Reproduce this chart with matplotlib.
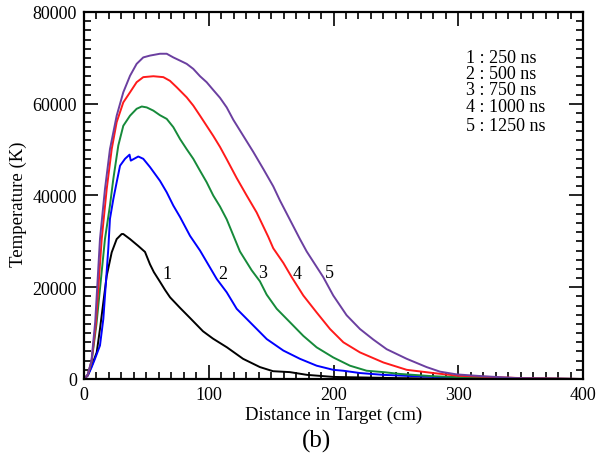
import numpy as np
import matplotlib
matplotlib.use("Agg")
import matplotlib.pyplot as plt
from matplotlib.ticker import MultipleLocator

plt.rcParams['font.family'] = ['Liberation Serif', 'DejaVu Serif']

### 데이터 ###

# 1 : 250 ns
x1 = [0, 3, 6.2, 10.2, 12.8, 15.5, 18.2, 22.2, 26.2, 30.2, 31.5, 36.9, 43.5, 48.9, 52.9, 56,
      60.9, 65, 69, 77, 85, 95.4, 103.4, 114.6, 127.5, 141, 151.5, 165, 178.8, 200, 250, 300, 400]
y1 = [0, 800, 2900, 5800, 10900, 16700, 22500, 27600, 30500, 31600, 31600, 30500, 29000, 27700, 25000, 23300,
      21200, 19400, 17800, 15500, 13300, 10400, 8800, 6900, 4400, 2600, 1700, 1500, 900, 450, 200, 50, 0]

# 2 : 500 ns
x2 = [0, 3, 6, 8.8, 12.8, 15.5, 19.5, 20.8, 23.5, 26.2, 28.9, 32.9, 36.5, 37.5, 43.5, 47.5,
      52.9, 60.9, 66.3, 71.6, 77, 85, 93, 106.4, 114.4, 122.4, 133, 146.5, 159.8, 173.1,
      186.5, 199.8, 207.9, 221.2, 240, 266.7, 300, 350, 400]
y2 = [0, 700, 2500, 4400, 7300, 13100, 28500, 34900, 39200, 42900, 46500, 48000, 48900, 47600, 48500, 48000,
      46200, 43200, 40700, 37800, 35300, 31200, 28000, 21800, 18900, 15300, 12400, 8700, 6200, 4400,
      2900, 2000, 1800, 1300, 900, 600, 250, 80, 0]

# 3 : 750 ns
x3 = [0, 3, 6, 10, 16.8, 20.8, 23.5, 27.5, 31.5, 36.9, 42.2, 46.3, 50.3, 55.6, 60.9, 66.3,
      71.6, 77, 82.3, 87.6, 93, 98.3, 103.6, 109, 114.4, 119.7, 125, 134.4, 141, 146.4, 154.5,
      165, 175.8, 186.5, 199.8, 213.2, 226.6, 240, 253.3, 280, 320, 400]
y3 = [0, 900, 3600, 12000, 30500, 37800, 43600, 50900, 55200, 57400, 58900, 59400, 59200, 58500, 57500, 56700,
      54900, 52300, 50100, 48000, 45400, 42900, 40000, 37600, 34800, 31300, 27800, 23700, 21300, 18400, 15300,
      12400, 9400, 6900, 4700, 2900, 1800, 1500, 1100, 600, 200, 0]

# 4 : 1000 ns
x4 = [0, 3, 6, 9.5, 14.2, 18.2, 22.2, 26.2, 31.5, 36.9, 42.2, 47.5, 55.6, 63.6, 68.9, 74.3,
      82.3, 87.6, 93, 98.3, 103.6, 109, 114.4, 122.4, 130.4, 138.4, 147.7, 151.7, 159.8, 166.5,
      175.8, 186.5, 197.2, 207.9, 221.2, 240, 258.7, 280, 300, 350, 400]
y4 = [0, 900, 3800, 12000, 30500, 41400, 50100, 56000, 60300, 62500, 64700, 65800, 66000, 65800, 65000, 63600,
      61400, 59600, 57400, 55200, 53000, 50600, 47900, 43800, 40000, 36300, 31000, 28500, 25300, 22200,
      18200, 14500, 10900, 8000, 5800, 3600, 2000, 1300, 700, 200, 0]

# 5 : 1250 ns
x5 = [0, 3, 6, 9, 12.8, 16.8, 20.8, 26.2, 31.5, 36.9, 42.2, 47.5, 52.9, 60.9, 66.3, 71.6,
      77, 82.3, 87.6, 93, 98.3, 103.6, 109, 114.4, 119.7, 127.7, 135.7, 143.7, 151.7, 157.1,
      165.1, 173.1, 178.5, 191.8, 199.8, 210.5, 221.2, 231.9, 242.6, 258.7, 274.6, 285.4,
      298.8, 320, 346.8, 400]
y5 = [0, 1000, 4000, 12500, 30500, 41400, 50100, 57400, 62500, 66100, 68700, 70100, 70500, 70900, 70900, 70100,
      69400, 68700, 67600, 66000, 64700, 63000, 61300, 59200, 56500, 53000, 49500, 45800, 42000, 38900,
      34700, 30500, 27800, 22200, 18200, 13900, 10900, 8600, 6500, 4400, 2600, 1600,
      1000, 600, 200, 0]

curves = [(x1, y1), (x2, y2), (x3, y3), (x4, y4), (x5, y5)]
colors = ['black', '#0000ff', '#168a3a', '#ff1a1a', '#6b3fa0']

# 곡선 번호 라벨 위치
label_text = ['1', '2', '3', '4', '5']
label_x = [66.3, 111, 143, 170.5, 196.6]
label_y = [22900, 22900, 23300, 22900, 23300]

# 범례 텍스트
legend_lines = ['1 : 250 ns', '2 : 500 ns', '3 : 750 ns', '4 : 1000 ns', '5 : 1250 ns']
legend_y = [70130, 66490, 63070, 59360, 55220]

''' 그리기 '''

fig = plt.figure(figsize=(5.97, 4.56), dpi=100)
ax = fig.add_axes([84/597, 1-380/456, 499/597, 367/456])

for (xs, ys), c in zip(curves, colors):
    ax.plot(xs, ys, color=c, lw=1.4, solid_joinstyle='round')

for t, lx, ly in zip(label_text, label_x, label_y):
    ax.text(lx, ly, t, fontsize=13, ha='center', va='center')

for t, ly in zip(legend_lines, legend_y):
    ax.text(306, ly, t, fontsize=13, ha='left', va='center')

ax.set_xlim(0, 400)
ax.set_ylim(0, 80000)
ax.xaxis.set_major_locator(MultipleLocator(100))
ax.xaxis.set_minor_locator(MultipleLocator(10))
ax.yaxis.set_major_locator(MultipleLocator(20000))
ax.yaxis.set_minor_locator(MultipleLocator(2000))
ax.tick_params(which='both', direction='in', top=True, right=True, labelsize=13, width=1.2)
ax.tick_params(which='major', length=10, pad=5)
ax.tick_params(which='minor', length=5)
for s in ax.spines.values():
    s.set_linewidth(1.6)

ax.set_xlabel('Distance in Target (cm)', fontsize=13.5, labelpad=2)
ax.set_ylabel('Temperature (K)', fontsize=13.5)
ax.yaxis.set_label_coords(-0.115, 0.48)

fig.text(316.7/597, 1-441/456, '(b)', fontsize=18, ha='center', va='center')

plt.savefig('out.png', dpi=100)
